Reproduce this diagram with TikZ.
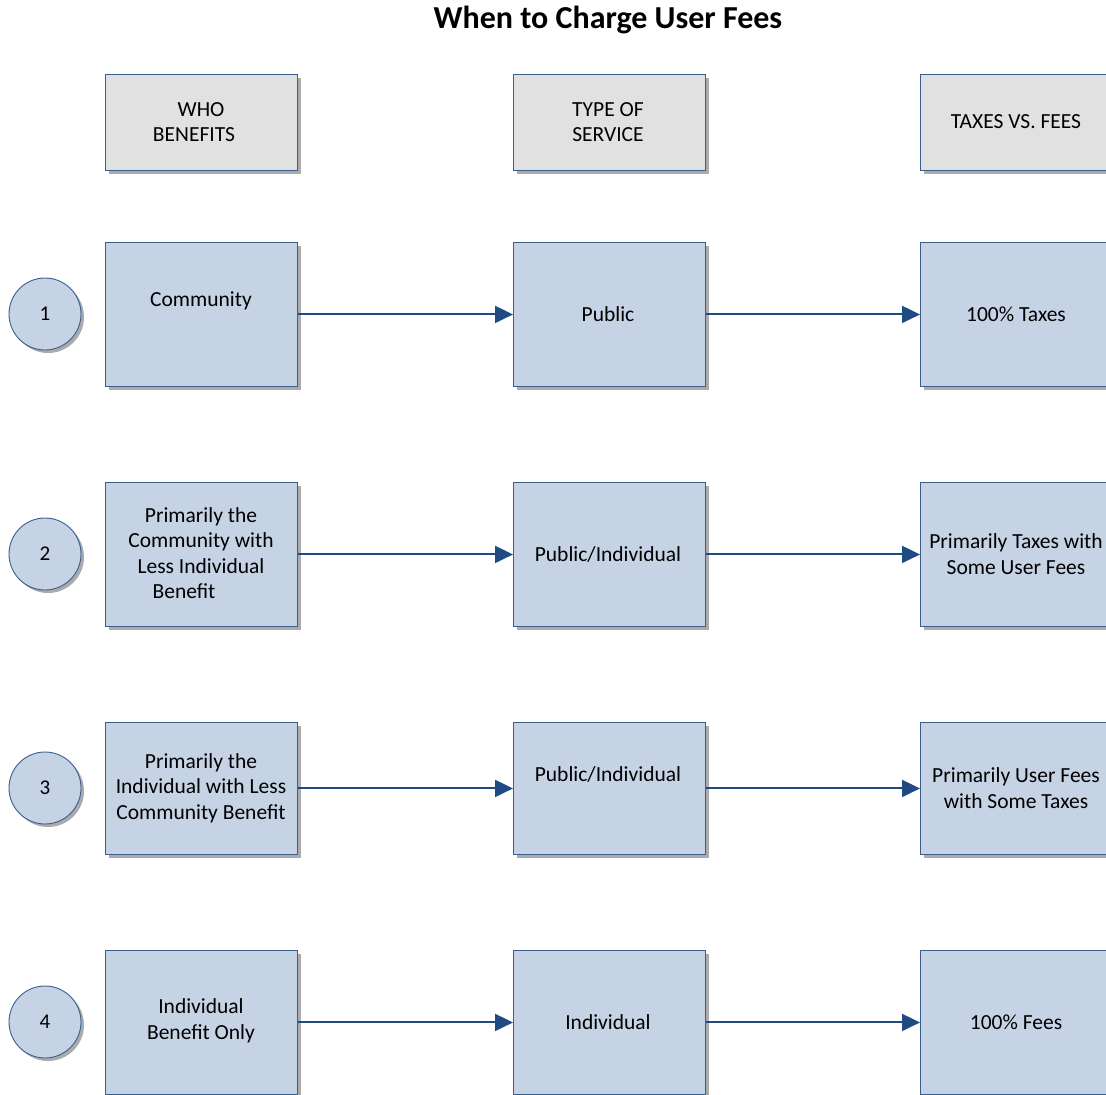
\documentclass[tikz,border=0pt]{standalone}
\usepackage{fontspec}
\setmainfont{Carlito}
\usetikzlibrary{shadows,arrows.meta}
\definecolor{boxfill}{HTML}{C5D3E5}
\definecolor{boxline}{HTML}{3A5F8F}
\definecolor{hdrfill}{HTML}{E1E1E1}
\definecolor{arrcol}{HTML}{1F4B82}
\definecolor{shcol}{HTML}{ABABAB}
\tikzset{
  x=1pt, y=-1pt,
  base/.style={draw=boxline, line width=0.9pt, anchor=north west, minimum width=192pt,
    drop shadow={shadow xshift=4pt, shadow yshift=-4pt, fill=shcol, opacity=1}},
  hdr/.style={base, fill=hdrfill, minimum height=96pt},
  box/.style={base, fill=boxfill, minimum height=144pt},
  boxs/.style={base, fill=boxfill, minimum height=132pt},
  num/.style={circle, draw=boxline, line width=0.9pt, fill=boxfill, minimum size=72pt, inner sep=0pt,
    font=\fontsize{21}{25}\selectfont,
    drop shadow={shadow xshift=3pt, shadow yshift=-3pt, fill=shcol, opacity=1}},
  txt/.style={align=center, font=\fontsize{21.5}{25.5}\selectfont, inner sep=0pt},
  arr/.style={draw=arrcol, line width=2pt, -{Triangle[length=18pt,width=17pt]}},
}
\begin{document}
\begin{tikzpicture}
\useasboundingbox (0,0) rectangle (1106,1095);
\clip (0,0) rectangle (1106,1095);
\node[font=\fontsize{32}{36}\selectfont\bfseries] (title) at (608,20) {When to Charge User Fees};
% headers
\node[hdr] (h1) at (105,74) {};
\node[hdr] (h2) at (513,74) {};
\node[hdr] (h3) at (920,74) {};
\node[txt] (h1t) at (201,122) {WHO\\BENEFITS\hspace*{14pt}};
\node[txt] (h2t) at (608,122) {TYPE OF\\SERVICE};
\node[txt] (h3t) at (1016,122) {TAXES VS. FEES};
% row 1
\node[num] (c1) at (45,314) {1};
\node[box] (a1) at (105,242) {};
\node[box] (b1) at (513,242) {};
\node[box] (d1) at (920,242) {};
\node[txt] (a1t) at (201,301) {Community};
\node[txt] (b1t) at (608,314) {Public};
\node[txt] (d1t) at (1016,314) {100\% Taxes};
% row 2
\node[num] (c2) at (45,554) {2};
\node[box] (a2) at (105,482) {};
\node[box] (b2) at (513,482) {};
\node[box] (d2) at (920,482) {};
\node[txt] (a2t) at (201,553) {Primarily the\\Community with\\Less Individual\\Benefit\hspace*{34pt}};
\node[txt] (b2t) at (608,554) {Public/Individual};
\node[txt] (d2t) at (1016,554) {Primarily Taxes with\\Some User Fees};
% row 3
\node[num] (c3) at (45,788) {3};
\node[boxs] (a3) at (105,722) {};
\node[boxs] (b3) at (513,722) {};
\node[boxs] (d3) at (920,722) {};
\node[txt] (a3t) at (201,788) {Primarily the\\Individual with Less\\Community Benefit};
\node[txt] (b3t) at (608,774) {Public/Individual};
\node[txt] (d3t) at (1016,788) {Primarily User Fees\\with Some Taxes};
% row 4
\node[num] (c4) at (45,1022) {4};
\node[box] (a4) at (105,950) {};
\node[box] (b4) at (513,950) {};
\node[box] (d4) at (920,950) {};
\node[txt] (a4t) at (201,1021) {Individual\\Benefit Only};
\node[txt] (b4t) at (608,1022) {Individual};
\node[txt] (d4t) at (1016,1022) {100\% Fees};
% arrows
\foreach \r in {1,2,3,4}{
  \draw[arr] (a\r.east) -- (b\r.west);
  \draw[arr] (b\r.east) -- (d\r.west);
}
\end{tikzpicture}
\end{document}
